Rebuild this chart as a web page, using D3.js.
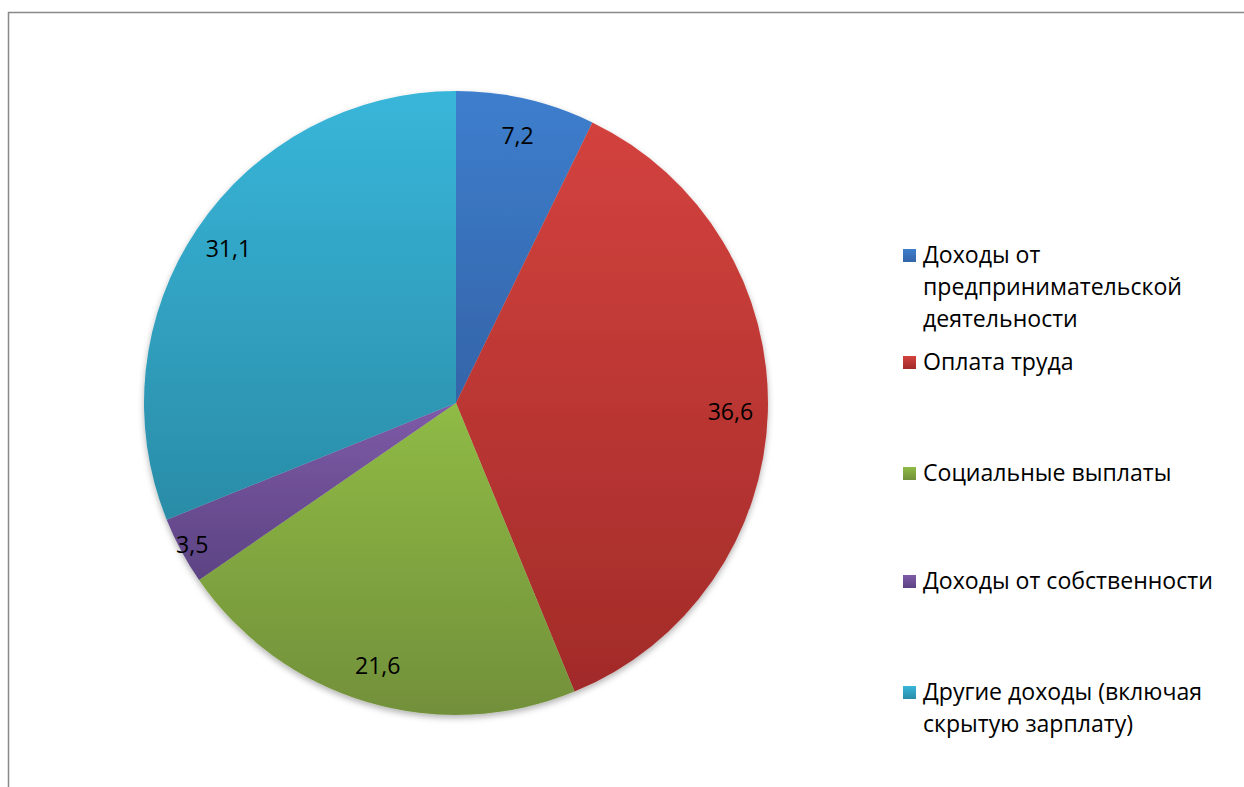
<!DOCTYPE html>
<html>
<head>
<meta charset="utf-8">
<script src="https://cdn.jsdelivr.net/npm/d3@7"></script>
<style>
  body { margin: 0; background: #fff; }
  svg { display: block; }
</style>
</head>
<body>
<div class="chart"></div>
<script>
// data
var categories = [
  "Доходы от предпринимательской деятельности",
  "Оплата труда",
  "Социальные выплаты",
  "Доходы от собственности",
  "Другие доходы (включая скрытую зарплату)"
];
var values = [7.2, 36.6, 21.6, 3.5, 31.1];
var legendLines = [
  ["Доходы от", "предпринимательской", "деятельности"],
  ["Оплата труда"],
  ["Социальные выплаты"],
  ["Доходы от собственности"],
  ["Другие доходы (включая", "скрытую зарплату)"]
];
var colorsTop = ["#3d7ecd", "#d3423e", "#8fbb45", "#7e5ba7", "#38b6da"];
var colorsBottom = ["#3464a8", "#a22b29", "#72903a", "#5c4383", "#2a8ca7"];

var svgWidth = 1244, svgHeight = 787;
var cx = 456, cy = 403, radius = 312;
var fontFamily = "'Open Sans', 'Noto Sans', sans-serif";

var svg = d3.select(".chart")
  .append("svg")
    .attr("width", svgWidth)
    .attr("height", svgHeight);

// chart frame (only left and top edges visible)
svg.append("rect")
  .attr("x", 8.5)
  .attr("y", 12.5)
  .attr("width", 1300)
  .attr("height", 900)
  .attr("fill", "#fff")
  .attr("stroke", "#898989")
  .attr("stroke-width", 1.5);

// pick a font size so the longest legend line is about as wide as in the picture
var probe = svg.append("text")
  .style("font-family", fontFamily)
  .style("font-size", "20px")
  .text("Доходы от собственности");
var fontSize = 20 * 290 / probe.node().getComputedTextLength();
probe.remove();
fontSize = Math.min(fontSize, 23.5);

var defs = svg.append("defs");

var shadow = defs.append("filter")
  .attr("id", "shadow")
  .attr("x", "-10%").attr("y", "-10%")
  .attr("width", "120%").attr("height", "120%");
shadow.append("feDropShadow")
  .attr("dx", 0).attr("dy", 3)
  .attr("stdDeviation", 3)
  .attr("flood-color", "#000")
  .attr("flood-opacity", 0.3);

categories.forEach(function(c, i) {
  var g = defs.append("linearGradient")
    .attr("id", "grad" + i)
    .attr("x1", 0).attr("y1", 0)
    .attr("x2", 0).attr("y2", 1);
  g.append("stop").attr("offset", "0%").attr("stop-color", colorsTop[i]);
  g.append("stop").attr("offset", "100%").attr("stop-color", colorsBottom[i]);
});

var pie = d3.pie().sort(null).value(function(d) { return d; });
var arcs = pie(values);

var arc = d3.arc().innerRadius(0).outerRadius(radius);

var pieG = svg.append("g")
  .attr("transform", "translate(" + cx + "," + cy + ")");

pieG.append("g")
  .attr("filter", "url(#shadow)")
  .selectAll("path")
  .data(arcs)
  .enter()
  .append("path")
    .attr("d", arc)
    .attr("fill", function(d, i) { return "url(#grad" + i + ")"; });

// small slices get their label pushed outward
function labelArc(d) {
  var r = d.value < 5 ? 0.96 * radius : 0.88 * radius;
  return d3.arc().innerRadius(r).outerRadius(r).centroid(d);
}

pieG.selectAll(".lbl")
  .data(arcs)
  .enter()
  .append("text")
    .attr("class", "lbl")
    .attr("transform", function(d) { return "translate(" + labelArc(d) + ")"; })
    .attr("text-anchor", "middle")
    .attr("dy", "0.35em")
    .style("font-family", fontFamily)
    .style("font-size", fontSize + "px")
    .attr("fill", "#000")
    .text(function(d) { return String(d.value).replace(".", ","); });

// legend
var legendY = [263, 370, 481, 589, 700];
var lineH = 32;
var legend = svg.append("g");

legendLines.forEach(function(lines, i) {
  var item = legend.append("g");
  item.append("rect")
    .attr("x", 903)
    .attr("y", legendY[i] - 14)
    .attr("width", 13)
    .attr("height", 13)
    .attr("fill", "url(#grad" + i + ")");
  item.append("text")
    .attr("x", 923)
    .attr("y", legendY[i])
    .style("font-family", fontFamily)
    .style("font-size", fontSize + "px")
    .attr("fill", "#000")
    .selectAll("tspan")
    .data(lines)
    .enter()
    .append("tspan")
      .attr("x", 923)
      .attr("dy", function(d, j) { return j === 0 ? 0 : lineH; })
      .text(function(d) { return d; });
});
</script>
</body>
</html>
